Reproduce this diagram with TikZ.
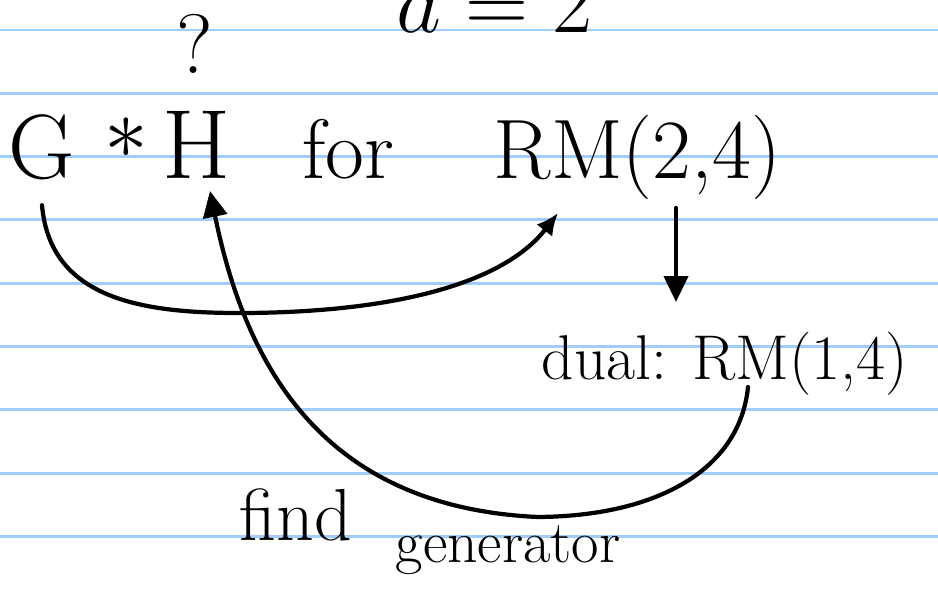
\documentclass[tikz,border=0pt]{standalone}
\usepackage{amsmath}
\usepackage{xcolor}
\usepackage{tikz}
\usetikzlibrary{arrows.meta, positioning}
\definecolor{ruleblue}{RGB}{160,205,250}
\tikzset{
  hand/.style={inner sep=0pt, font=\fontsize{24}{28}\selectfont},
  bighand/.style={hand, font=\fontsize{28}{32}\selectfont},
  smallhand/.style={hand, font=\fontsize{18}{22}\selectfont},
  ruling/.style={ruleblue, line width=0.8pt},
  pen/.style={line width=1.2pt, line cap=round},
  penarrow/.style={pen, -{Triangle[length=2.6mm, width=2.4mm]}}
}

\begin{document}
\begin{tikzpicture}[
  roundtip/.style={pen, -{Latex[length=2.2mm, width=2mm]}}
]
\useasboundingbox (0,0) rectangle (9.38,5.88);
\clip (0,0) rectangle (9.38,5.88);
\fill[white] (0,0) rectangle (9.38,5.88);

% Ruled paper
\foreach \k in {0,...,8}
  \draw[ruling] (0,{5.58-0.633*\k}) -- (9.38,{5.58-0.633*\k});

% Nodes
\node[bighand, anchor=base] (dd) at (4.95,5.56) {$d=2$};
\node[hand, anchor=base] (quest) at (1.95,5.15) {?};
\node[hand, font=\fontsize{26}{30}\selectfont, anchor=base] (g) at (0.42,4.10) {G};
\node[hand] (star) at (1.26,4.50) {$*$};
\node[bighand, anchor=base] (h) at (1.97,4.10) {H};
\node[hand, anchor=base] (for) at (3.48,4.10) {for};
\node[hand, anchor=base west] (rm24) at (4.93,4.10) {RM(2,4)};
\node[smallhand, anchor=base west] (dual) at (5.41,2.09) {dual: RM(1,4)};
\node[hand, font=\fontsize{21}{25}\selectfont, anchor=base west] (find) at (2.39,0.48) {find};
\node[hand, font=\fontsize{17}{21}\selectfont, anchor=base west] (gen) at (3.95,0.26) {generator};

% Loose ends
\coordinate[below=2.5mm of g.south] (gfoot);
\coordinate (rmfoot) at (5.58,3.75);
\coordinate (htip) at (2.10,3.97);
\coordinate (dualfoot) at (7.48,2.01);
\coordinate (vtop) at (6.76,3.80);
\coordinate (vbot) at (6.76,2.86);

% Arrows
\draw[roundtip] (gfoot) .. controls (0.5,2.9) and (1.4,2.75) .. (2.39,2.75)
  .. controls (3.8,2.75) and (5.0,3.0) .. (rmfoot);
\draw[penarrow] (vtop) -- (vbot);
\draw[penarrow] (dualfoot) .. controls (7.4,1.2) and (6.6,0.72) .. (5.38,0.71)
  .. controls (3.4,0.8) and (2.5,2.0) .. (htip);

\end{tikzpicture}
\end{document}
